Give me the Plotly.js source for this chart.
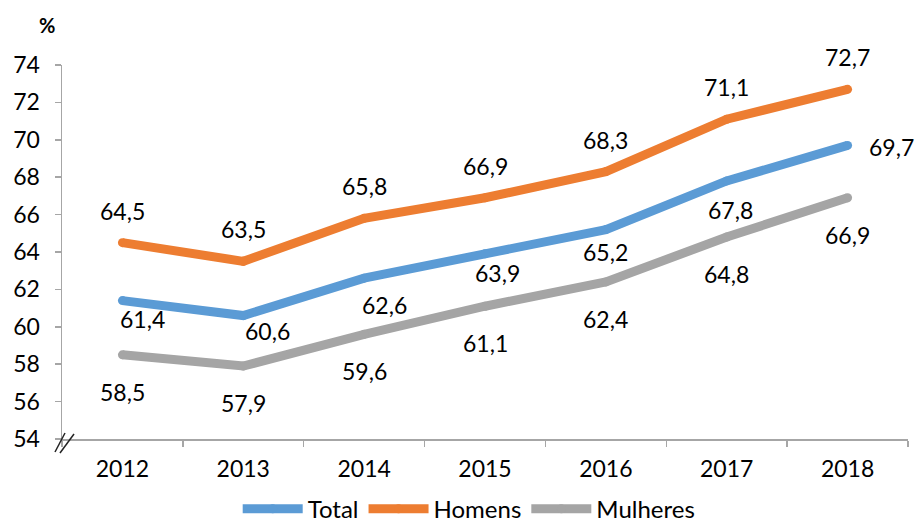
<!DOCTYPE html>
<html>
<head>
<meta charset="utf-8">
<script src="https://cdn.plot.ly/plotly-3.0.1.min.js"></script>
<style>html,body{margin:0;padding:0;background:#fff;}#chart{width:920px;height:525px;}</style>
</head>
<body>
<div id="chart"></div>
<script>
var years = ["2012", "2013", "2014", "2015", "2016", "2017", "2018"];
var total = [61.4, 60.6, 62.6, 63.9, 65.2, 67.8, 69.7];
var homens = [64.5, 63.5, 65.8, 66.9, 68.3, 71.1, 72.7];
var mulheres = [58.5, 57.9, 59.6, 61.1, 62.4, 64.8, 66.9];
var yTicks = [54, 56, 58, 60, 62, 64, 66, 68, 70, 72, 74];

// label placement (pixels)
var totalDx = [20, 24, 20, 12, 0, 4, 44];
var totalDy = [-18, -15, -27, -19, -22, -29, -2];
var homensDy = -32;
var mulheresDy = -37;

var FONT = "Lato, 'Open Sans', sans-serif";
var FS = 23;
var colors = {total: "#5B9BD5", homens: "#ED7D31", mulheres: "#A5A5A5"};

function fmt(v){ return v.toFixed(1).replace(".", ","); }

function trace(name, ys, color){
  return {x: years, y: ys, name: name, type: "scatter", mode: "lines+markers",
    line: {color: color, width: 9},
    marker: {color: color, size: 9, line: {width: 0}},
    hoverinfo: "skip"};
}

var data = [trace("Total", total, colors.total), trace("Homens", homens, colors.homens), trace("Mulheres", mulheres, colors.mulheres)];

var ann = [];
years.forEach(function(yr, i){
  ann.push({x: i, y: homens[i], xref: "x", yref: "y", text: fmt(homens[i]), showarrow: false, yshift: -homensDy, font: {family: FONT, size: FS, color: "#000"}});
  ann.push({x: i, y: total[i], xref: "x", yref: "y", text: fmt(total[i]), showarrow: false, xshift: totalDx[i], yshift: totalDy[i], font: {family: FONT, size: FS, color: "#000"}});
  ann.push({x: i, y: mulheres[i], xref: "x", yref: "y", text: fmt(mulheres[i]), showarrow: false, yshift: mulheresDy, font: {family: FONT, size: FS, color: "#000"}});
});
ann.push({xref: "paper", yref: "paper", x: -0.018, y: 1.108, xanchor: "center", yanchor: "middle", text: "<b>%</b>", showarrow: false, font: {family: FONT, size: 20, color: "#000"}});

var shapes = [
  {type: "line", xref: "paper", yref: "paper", xsizemode: "pixel", ysizemode: "pixel", xanchor: 0, yanchor: 0, x0: -7, y0: -13, x1: 3, y1: 6, line: {color: "#222", width: 1.5}},
  {type: "line", xref: "paper", yref: "paper", xsizemode: "pixel", ysizemode: "pixel", xanchor: 0, yanchor: 0, x0: -2, y0: -14, x1: 12, y1: 5, line: {color: "#222", width: 1.5}}
];

var layout = {
  width: 920, height: 525,
  margin: {l: 62, r: 12, t: 65, b: 86, autoexpand: false},
  paper_bgcolor: "#fff", plot_bgcolor: "#fff",
  font: {family: FONT, size: FS, color: "#000"},
  showlegend: true,
  legend: {orientation: "h", x: 0.51, xanchor: "center", xref: "container", y: 0.03, yanchor: "middle", yref: "container",
    font: {family: FONT, size: 24, color: "#000"}, itemwidth: 60, tracegroupgap: 0, itemclick: false},
  xaxis: {type: "category", tickson: "boundaries", ticks: "outside", ticklen: 6, tickcolor: "#A6A6A6", tickwidth: 1.5,
    showline: true, linecolor: "#A6A6A6", linewidth: 1.5, showgrid: false, zeroline: false, ticklabelstandoff: 9,
    tickfont: {family: FONT, size: FS, color: "#000"}, range: [-0.5, 6.5]},
  yaxis: {range: [54, 74], tickvals: yTicks, ticktext: yTicks.map(String), ticks: "outside", ticklen: 6, tickcolor: "#A6A6A6", tickwidth: 1.5,
    showline: true, linecolor: "#A6A6A6", linewidth: 1.5, showgrid: false, zeroline: false, ticklabelstandoff: 10,
    tickfont: {family: FONT, size: FS, color: "#000"}},
  annotations: ann,
  shapes: shapes
};

Plotly.newPlot("chart", data, layout, {staticPlot: true});
</script>
</body>
</html>
